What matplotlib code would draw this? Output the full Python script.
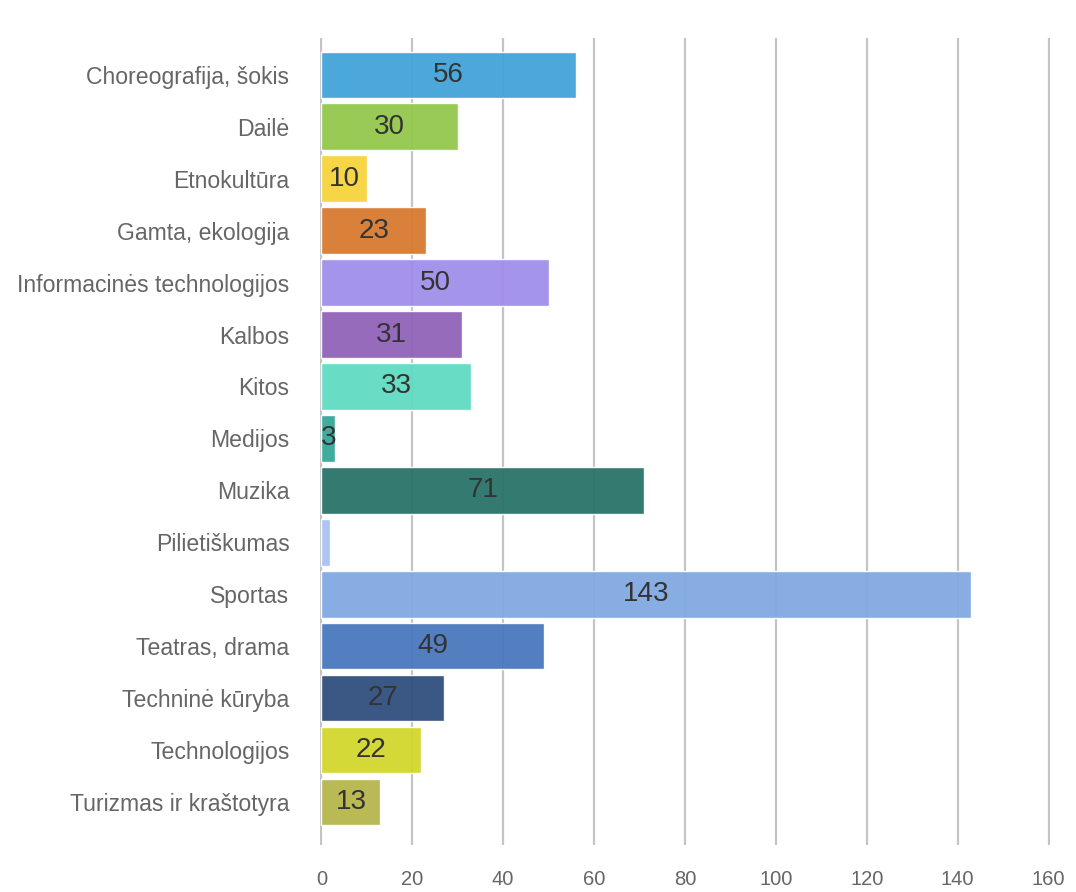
import matplotlib.pyplot as plt
import numpy as np

categories = [
    "Choreografija, šokis", "Dailė", "Etnokultūra", "Gamta, ekologija",
    "Informacinės technologijos", "Kalbos", "Kitos", "Medijos", "Muzika",
    "Pilietiškumas", "Sportas", "Teatras, drama", "Techninė kūryba",
    "Technologijos", "Turizmas ir kraštotyra",
]
values = [56, 30, 10, 23, 50, 31, 33, 3, 71, 2, 143, 49, 27, 22, 13]
colors = [
    "#42a4d8", "#93c84c", "#f6d33c", "#d77a30", "#9f8ee9", "#9063b9",
    "#60dbc1", "#37a898", "#2a7368", "#aac1f2", "#82a9e1", "#4a78be",
    "#2f4f7c", "#d2d72c", "#b6b54d",
]
xticks = [0, 20, 40, 60, 80, 100, 120, 140, 160]

plt.rcParams['font.family'] = ['Liberation Sans', 'DejaVu Sans']

fig = plt.figure(figsize=(10.76, 8.92), dpi=100)
ax = fig.add_axes([0.2974, 0.0527, 0.6784, 0.9047])

y = np.arange(len(categories))
ax.barh(y, values, height=0.9, color=colors, alpha=0.95,
        edgecolor=(1, 1, 1, 0.5), linewidth=1, zorder=2)

# small bars (Pilietiškumas) get no label, like the original
for yi, v in zip(y, values):
    if v >= 3:
        ax.text(v / 2, yi, str(v), ha='center', va='center',
                fontsize=20, color='#333333', zorder=3)

ax.set_xlim(-0.3, 160.3)
ax.set_ylim(len(categories) - 1 + 0.83, -0.71)
ax.set_xticks(xticks)
ax.set_yticks(y)
ax.set_yticklabels(categories)
ax.grid(axis='x', color='#c4c4c4', linewidth=1.6, zorder=1)
ax.set_axisbelow(True)
ax.tick_params(axis='both', length=0, labelcolor='#666666')
ax.tick_params(axis='x', pad=18, labelsize=14.5)
ax.tick_params(axis='y', pad=22, labelsize=16.6)
for s in ax.spines.values():
    s.set_visible(False)

plt.savefig('out.png', dpi=100)
